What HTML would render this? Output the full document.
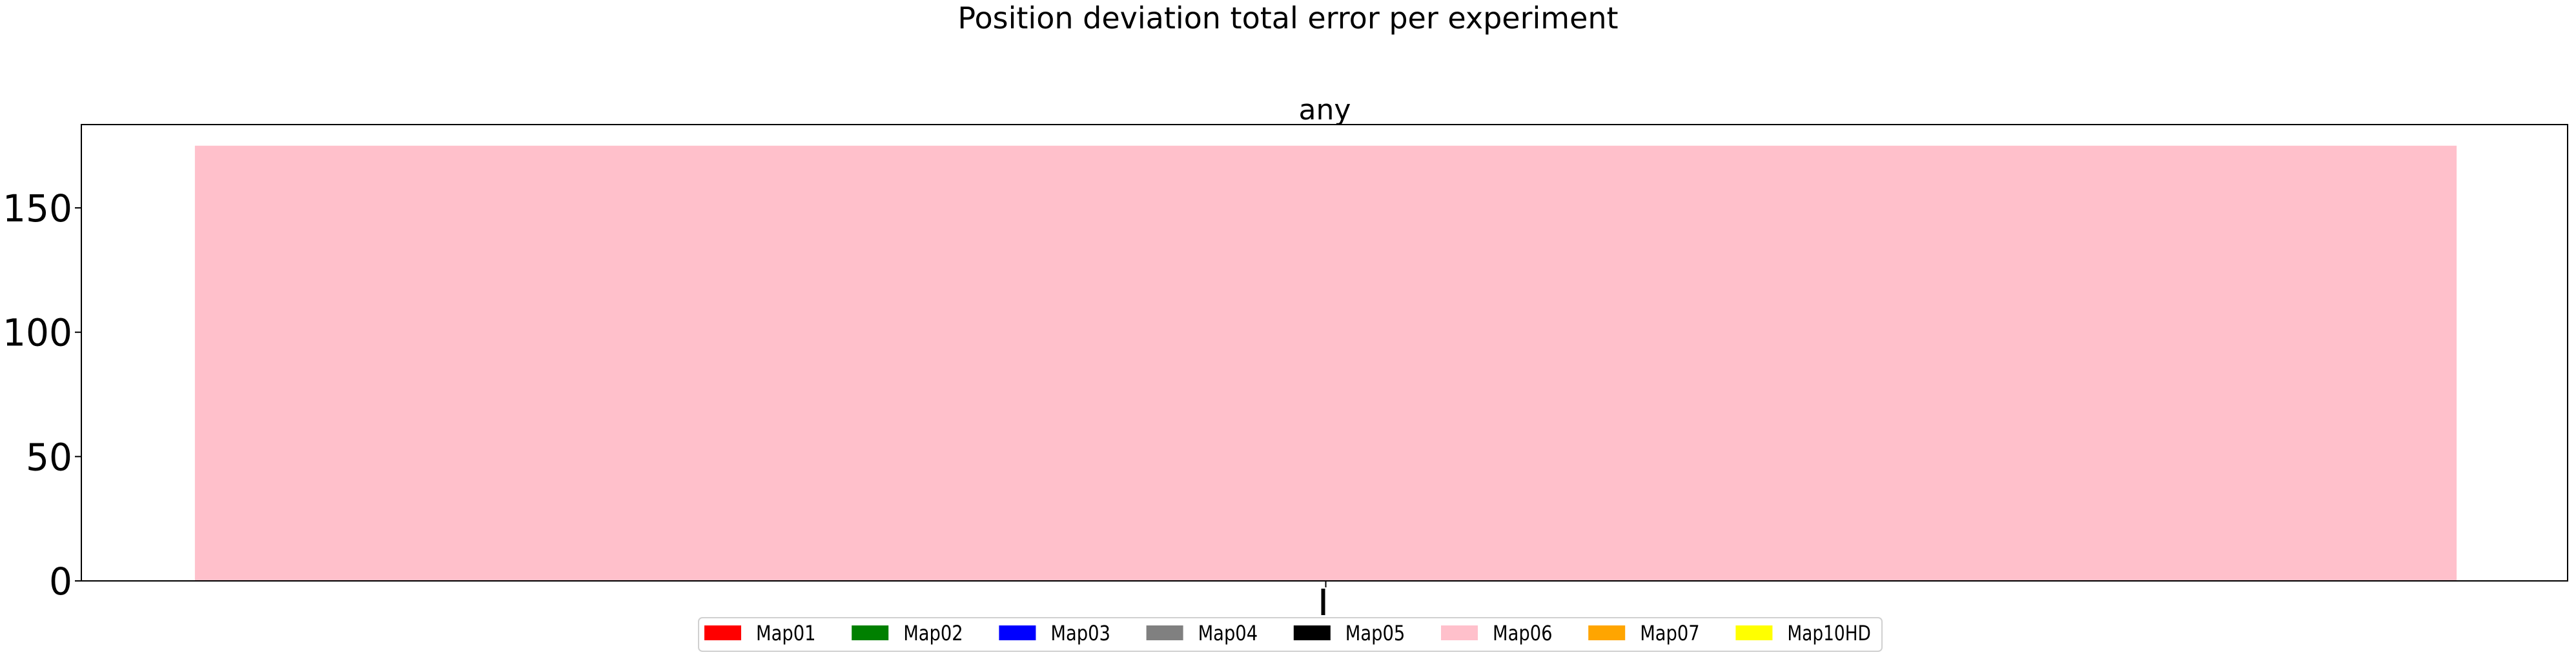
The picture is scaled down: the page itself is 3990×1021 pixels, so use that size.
<!DOCTYPE html>
<html><head><meta charset="utf-8"><style>
body{margin:0;background:#fff;}
svg text{font-family:"DejaVu Sans","Liberation Sans",sans-serif;}
</style></head><body>
<svg width="3990" height="1016" xmlns="http://www.w3.org/2000/svg">
<text x="1995" y="44" font-size="46" text-anchor="middle">Position deviation total error per experiment</text>
<text x="2052" y="185" font-size="44" text-anchor="middle">any</text>
<g id="plot"></g>
<g id="legend"></g>
</svg>
<script>
const categories=["any"];
const values=[175];
const barColors=["pink"];
const yTicks=[0,50,100,150];
const legendLabels=["Map01","Map02","Map03","Map04","Map05","Map06","Map07","Map10HD"];
const legendColors=["red","green","blue","gray","black","pink","orange","yellow"];
const NS="http://www.w3.org/2000/svg";
const L=126,R=3977,T=193,B=900,yMax=183.5;
const y=v=>B-(v/yMax)*(B-T);
const xc=i=>L+(R-L)*(i+0.5)/categories.length+2;
const bw=(R-L)*0.9097/categories.length;
const plot=document.getElementById('plot');
function mk(t,a,p){const e=document.createElementNS(NS,t);for(const k in a)e.setAttribute(k,a[k]);(p||plot).appendChild(e);return e;}
values.forEach((v,i)=>{
 const r=mk('rect',{x:xc(i)-bw/2,y:y(v),width:bw,height:B-y(v),fill:barColors[i]});
 
 
 const tk=mk('line',{x1:xc(i),x2:xc(i),y1:B,y2:B+10,stroke:'#000','stroke-width':2});
 
 
 const lb=mk('line',{x1:xc(i)-4,x2:xc(i)-4,y1:B+12,y2:B+53,stroke:'#000','stroke-width':6});
 
 
});
yTicks.forEach(t=>{
 const l=mk('line',{x1:L-10,x2:L,y1:y(t),y2:y(t),stroke:'#000','stroke-width':2});
 
 
 const s=String(t);
 const tx=mk('text',{x:L-14,y:y(t)+21,'font-size':58,'text-anchor':'end',textLength:s.length*36,lengthAdjust:'spacingAndGlyphs'});
 tx.textContent=s;
 
 
});
const fr=mk('rect',{x:L,y:T,width:R-L,height:B-T,fill:'none',stroke:'#000','stroke-width':2});


const lg=document.getElementById('legend');
const box=mk('rect',{x:1082,y:957,width:1833,height:52,rx:6,fill:'#fff',stroke:'#d0d0d0','stroke-width':2},lg);


legendLabels.forEach((n,i)=>{
 const x0=1091+i*228.2;
 const p=mk('rect',{x:x0,y:969,width:57,height:23,fill:legendColors[i]},lg);
 
 
 const t=mk('text',{x:x0+80,y:992,'font-size':32,textLength:n.length*18.5,lengthAdjust:'spacingAndGlyphs'},lg);
 t.textContent=n;
 
 
});
</script>
</body></html>
